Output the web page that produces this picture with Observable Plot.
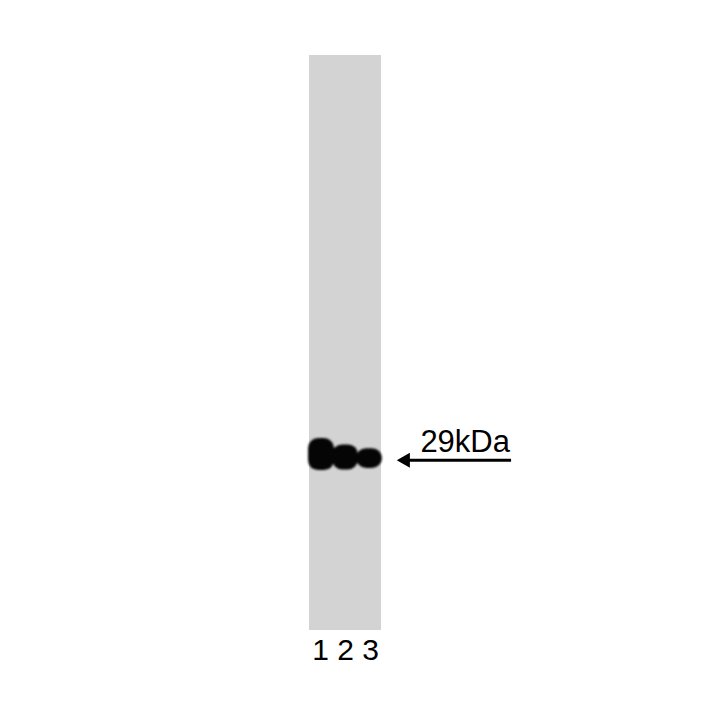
<!DOCTYPE html>
<html>
<head>
<meta charset="utf-8">
<script src="https://cdn.jsdelivr.net/npm/d3@7"></script>
<script src="https://cdn.jsdelivr.net/npm/@observablehq/plot@0.6"></script>
<style>
  html, body { margin: 0; padding: 0; background: #fff; }
  #chart svg { display: block; }
</style>
</head>
<body>
<div id="chart"></div>
<script>
// Lanes of the western blot
const lanes = ["1", "2", "3"];
// Relative band intensity per lane (drives band size)
const bandIntensity = [1.0, 0.78, 0.62];
// Band migration (fraction of gel length from top) per lane
const bandMigration = [0.694, 0.699, 0.701];
// Molecular-weight marker
const markerLabels = ["29kDa"];
const markerMigration = [0.704];

// Build tables
const bands = lanes.map((lane, i) => ({
  lane,
  pos: i + 1,
  intensity: bandIntensity[i],
  mig: bandMigration[i]
}));
const markers = markerLabels.map((label, i) => ({label, mig: markerMigration[i]}));

// Scales: x in lane units (gel spans lanes 0.5..3.5), y in migration fraction (0 top, 1 bottom)
const W = 720, H = 720;
const gelX0 = 309, gelX1 = 381, gelY0 = 55, gelY1 = 630;
const pxPerLane = (gelX1 - gelX0) / 3;
const pxPerMig = gelY1 - gelY0;
const xDomain = [0.5 - gelX0 / pxPerLane, 0.5 + (W - gelX0) / pxPerLane];
const yDomain = [-gelY0 / pxPerMig, 1 + (H - gelY1) / pxPerMig];

const bandW = 1.08;          // lane units
const bandHPerInt = 0.0557;  // migration units per intensity

const svg = Plot.plot({
  width: W,
  height: H,
  margin: 0,
  style: {background: "white", fontFamily: "'Liberation Sans', Arial, sans-serif"},
  x: {domain: xDomain, axis: null},
  y: {domain: yDomain, reverse: true, axis: null},
  marks: [
    // gel background
    Plot.rect([{}], {x1: 0.5, x2: 3.5, y1: 0, y2: 1, fill: "#d3d3d3"}),
    // bands
    Plot.rect(bands, {
      x1: d => d.pos - bandW / 2,
      x2: d => d.pos + bandW / 2,
      y1: d => d.mig - d.intensity * bandHPerInt / 2,
      y2: d => d.mig + d.intensity * bandHPerInt / 2,
      fill: "#050505",
      rx: 10
    }),
    // lane labels (one line, spaced)
    Plot.text([lanes.join(" ")], {
      x: 2, y: 1.035, text: d => d,
      fontSize: 30, fill: "black", lineAnchor: "middle"
    }),
    // marker arrow shaft
    Plot.ruleY(markers, {
      y: "mig", x1: 4.4, x2: 8.92, stroke: "black", strokeWidth: 3
    }),
    // marker arrow head
    Plot.dot(markers, {
      x: 4.5, y: "mig", symbol: "triangle", rotate: -90, r: 5.6,
      fill: "black", stroke: "none"
    }),
    // marker label
    Plot.text(markers, {
      x: 5.12, y: d => d.mig - 0.032, text: "label",
      textAnchor: "start", fontSize: 31, fill: "black", lineAnchor: "middle"
    })
  ]
});

// soften band edges like a blot
d3.select(svg).selectAll('g[aria-label="rect"]').filter((d, i) => i === 1)
  .style("filter", "blur(1.3px)");

document.getElementById("chart").appendChild(svg);
</script>
</body>
</html>
